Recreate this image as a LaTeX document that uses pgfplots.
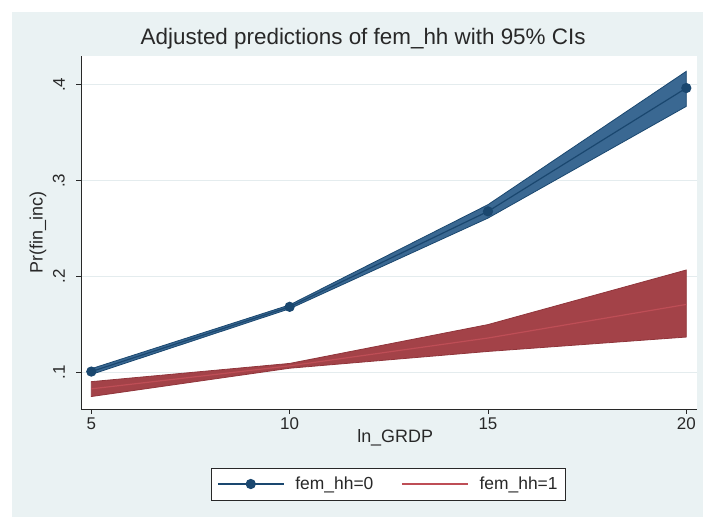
\documentclass[border=0pt]{standalone}
\usepackage{pgfplots}
\pgfplotsset{compat=1.18}
\usepackage{fontspec}
\setmainfont{Liberation Sans}
\definecolor{bgc}{RGB}{234,242,243}
\definecolor{navyS}{RGB}{26,71,111}
\definecolor{navyband}{RGB}{58,104,146}
\definecolor{maroonS}{RGB}{144,53,59}
\definecolor{maroonband}{RGB}{163,66,72}
\definecolor{maroonline}{RGB}{190,78,86}
\definecolor{gridc}{RGB}{228,236,238}
\definecolor{axc}{RGB}{40,40,40}
\begin{document}
\begin{tikzpicture}[x=1bp,y=1bp]
\fill[white] (0,0) rectangle (703,517);
\fill[bgc] (12,0) rectangle (703,505);
\begin{axis}[
  at={(81bp,108bp)}, anchor=south west,
  scale only axis, width=616bp, height=353bp,
  xmin=4.74, xmax=20.27, ymin=0.062, ymax=0.430,
  axis lines*=left,
  axis line style={axc, line width=0.9bp},
  axis background/.style={fill=white},
  xtick={5,10,15,20}, xticklabels={5,10,15,20},
  ytick={0.1,0.2,0.3,0.4}, yticklabels={.1,.2,.3,.4},
  tick align=outside, major tick length=5bp,
  tick style={axc, line width=0.8bp},
  ymajorgrids, grid style={gridc, line width=0.8bp},
  xticklabel style={font=\fontsize{17}{17}\selectfont, text=axc},
  yticklabel style={font=\fontsize{17}{17}\selectfont, text=axc, rotate=90, anchor=south, inner ysep=11bp},
  xlabel={ln\_GRDP},
  xlabel style={at={(axis description cs:0.51,-0.082)}, anchor=center, font=\fontsize{18}{18}\selectfont, text=axc},
  ylabel={Pr(fin\_inc)},
  ylabel style={at={(axis description cs:-0.07,0.5)}, anchor=center, font=\fontsize{18}{18}\selectfont, text=axc},
  title={Adjusted predictions of fem\_hh with 95\% CIs},
  title style={at={(axis description cs:0.458,1.017)}, anchor=base, font=\fontsize{22.5}{22.5}\selectfont, text=axc},
  legend style={at={(axis description cs:0.499,-0.2125)}, anchor=center, draw=axc, line width=0.8bp, fill=white,
    font=\fontsize{17.5}{17.5}\selectfont, text=axc, inner xsep=6bp, inner ysep=7bp,
    /tikz/every odd column/.append style={column sep=9bp},
    /tikz/every even column/.append style={column sep=26bp}},
  legend columns=2, legend cell align=left,
  legend image code/.code={\draw[mark repeat=2,mark phase=2,#1] plot coordinates {(0bp,0bp) (33bp,0bp) (66bp,0bp)};},
]
% confidence bands
\addplot[forget plot, fill=navyband, draw=navyS, line width=0.8bp] coordinates {
 (5,0.098) (10,0.1665) (15,0.261) (20,0.3775)
 (20,0.4140) (15,0.275) (10,0.1705) (5,0.104)} -- cycle;
\addplot[forget plot, fill=maroonband, draw=maroonS, line width=0.8bp] coordinates {
 (5,0.075) (10,0.1045) (15,0.122) (20,0.137)
 (20,0.2069) (15,0.150) (10,0.1095) (5,0.0905)} -- cycle;
% predictions
\addplot[navyS, line width=1.2bp, mark=*, mark size=4.5bp, mark options={fill=navyS, draw=navyS, solid}] coordinates {
 (5,0.101) (10,0.1685) (15,0.268) (20,0.3966)};
\addlegendentry{fem\_hh=0}
\addplot[maroonline, line width=1.2bp] coordinates {
 (5,0.083) (10,0.107) (15,0.136) (20,0.171)};
\addlegendentry{fem\_hh=1}
\end{axis}
\end{tikzpicture}
\end{document}
